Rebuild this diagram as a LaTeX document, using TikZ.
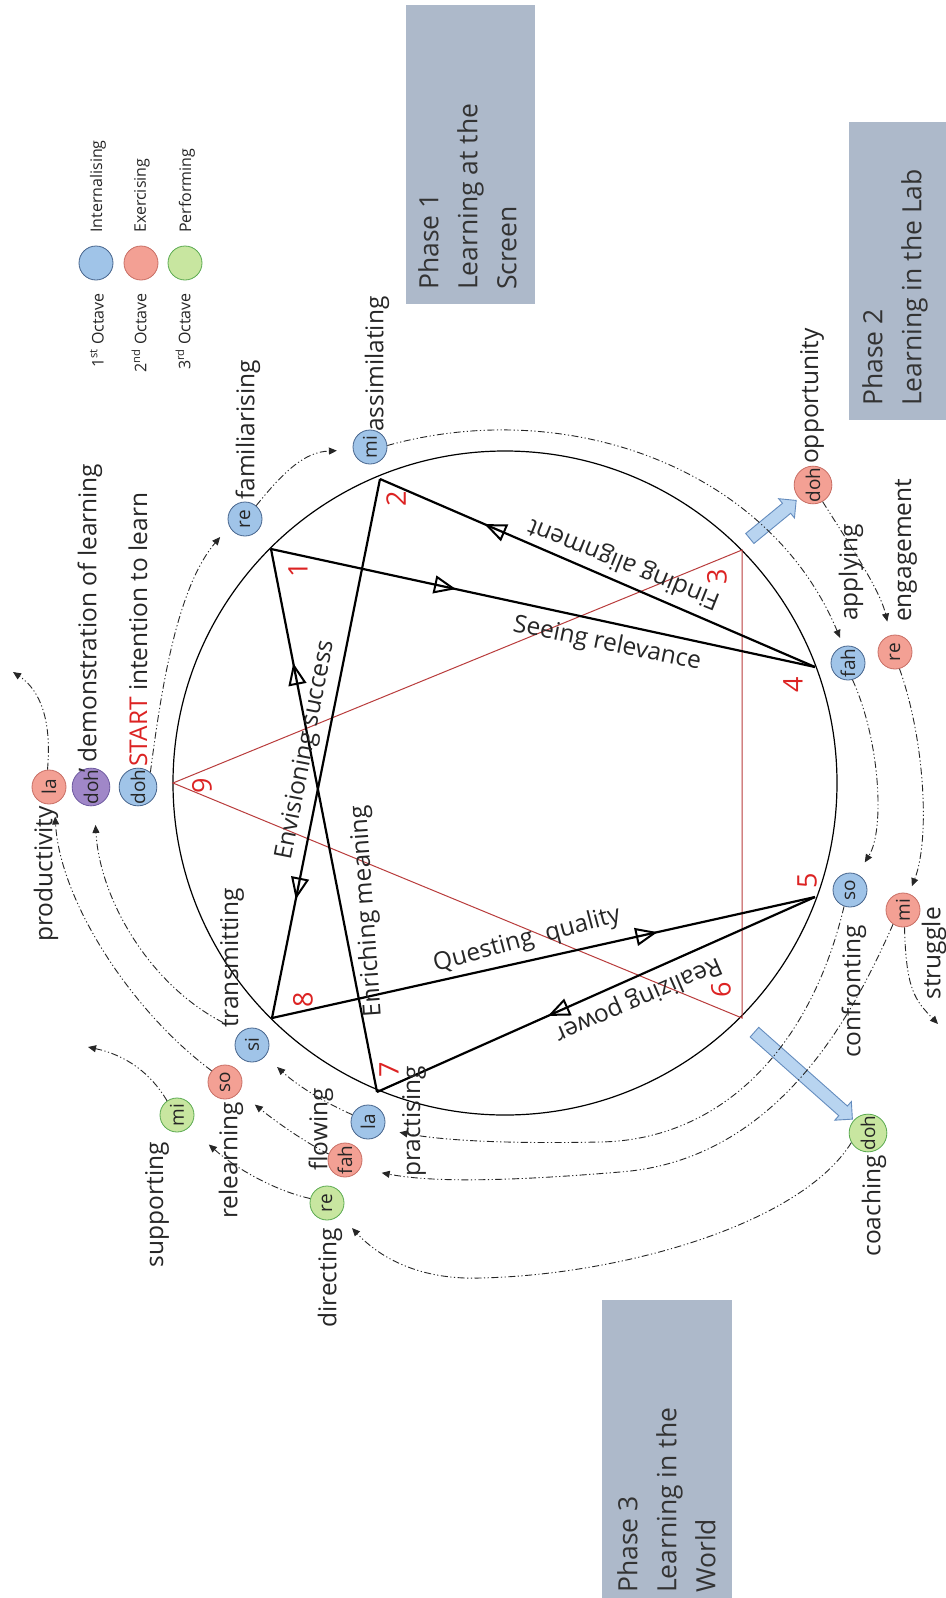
\documentclass[tikz,border=0pt]{standalone}
\usepackage{fontspec}
\setmainfont{Open Sans}
\usepackage{graphicx}
\usetikzlibrary{arrows.meta,decorations.markings,shapes.arrows}

\definecolor{noteblue}{RGB}{160,196,232}
\definecolor{noteblueedge}{RGB}{70,100,140}
\definecolor{notered}{RGB}{243,160,148}
\definecolor{noterededge}{RGB}{200,110,100}
\definecolor{notegreen}{RGB}{200,230,160}
\definecolor{notegreenedge}{RGB}{90,170,80}
\definecolor{notepurple}{RGB}{160,135,200}
\definecolor{notepurpleedge}{RGB}{110,90,160}
\definecolor{phasefill}{RGB}{173,185,202}
\definecolor{numred}{RGB}{220,35,35}
\definecolor{trired}{RGB}{185,60,60}
\definecolor{shiftfill}{RGB}{184,212,240}
\definecolor{shiftedge}{RGB}{100,140,190}

\begin{document}
\begin{tikzpicture}[x=1pt,y=-1pt,
  note/.style={circle, draw, line width=0.8pt, minimum size=34pt, inner sep=0pt, font=\fontsize{19}{19}\selectfont, text=black!85},
  nb/.style={note, fill=noteblue, draw=noteblueedge},
  nr/.style={note, fill=notered, draw=noterededge},
  ng/.style={note, fill=notegreen, draw=notegreenedge},
  np/.style={note, fill=notepurple, draw=notepurpleedge},
  lab/.style={inner sep=0pt, font=\fontsize{24.5}{25}\selectfont, text=black!85},
  vlab/.style={lab, rotate=90},
  num/.style={inner sep=0pt, text=numred, rotate=90, font=\fontsize{27}{27}\selectfont},
  legtxt/.style={inner sep=0pt, rotate=90, font=\fontsize{16}{16}\selectfont, text=black!85},
  phasetxt/.style={inner sep=0pt, rotate=90, align=left, font=\fontsize{26.5}{39}\selectfont, text=black!80},
  chord/.style={line width=2.2pt, draw=black},
  midtri/.style={postaction={decorate, decoration={markings, mark=at position #1 with {\arrow{Triangle[open, length=22pt, width=18pt, line width=2pt]}}}}},
  ring/.style={line width=1.2pt, draw=black},
  tri/.style={line width=1pt, draw=trired},
  flow/.style={line width=0.9pt, draw=black!85, dash pattern=on 7pt off 2.5pt on 1.2pt off 2.5pt on 1.2pt off 2.5pt, -{Triangle[length=8pt, width=7pt]}},
  shiftarrow/.style={single arrow, draw=shiftedge, fill=shiftfill, line width=0.9pt, inner xsep=0pt, inner ysep=6pt, minimum width=0pt, single arrow head extend=6pt, single arrow tip angle=90}
]
\useasboundingbox (0,0) rectangle (945,1598);
\fill[white] (0,0) rectangle (945,1598);

% phase panels
\fill[phasefill] (406,5) rectangle (535,304);
\fill[phasefill] (849,122) rectangle (950,420);
\fill[phasefill] (602,1300) rectangle (732,1605);
\node[phasetxt, anchor=north west] (ph1) at (418,290) {Phase 1\\Learning at the\\Screen};
\node[phasetxt, anchor=north west] (ph2) at (862,406) {Phase 2\\Learning in the Lab};
\node[phasetxt, anchor=north west] (ph3) at (617,1593) {Phase 3\\Learning in the\\World};

% legend
\node[nb] (legB) at (96,263) {};
\node[nr] (legR) at (141,263) {};
\node[ng] (legG) at (185,263) {};
\node[legtxt, anchor=west] (legBt) at (98,233) {Internalising};
\node[legtxt, anchor=west] (legRt) at (142,233) {Exercising};
\node[legtxt, anchor=west] (legGt) at (187,233) {Performing};
\node[legtxt, anchor=east] (legBo) at (97,293) {1\textsuperscript{st} Octave};
\node[legtxt, anchor=east] (legRo) at (139,293) {2\textsuperscript{nd} Octave};
\node[legtxt, anchor=east] (legGo) at (183,293) {3\textsuperscript{rd} Octave};

% enneagram circle and its points
\draw[ring] (505,783) circle[radius=332pt];
\coordinate (p1) at (271,549);
\coordinate (p2) at (380,479);
\coordinate (p3) at (742,550);
\coordinate (p4) at (815,667);
\coordinate (p5) at (815,897);
\coordinate (p6) at (742,1018);
\coordinate (p7) at (377,1092);
\coordinate (p8) at (272,1018);
\coordinate (p9) at (173,783);

% inner triangle 9-3-6
\draw[tri] (p9) -- (p3) -- (p6) -- cycle;

% hexad 1-4-2-8-5-7
\draw[chord, midtri=0.34] (p1) -- (p4);
\draw[chord, midtri=0.76] (p4) -- (p2);
\draw[chord, midtri=0.78] (p2) -- (p8);
\draw[chord, midtri=0.71] (p8) -- (p5);
\draw[chord, midtri=0.61] (p5) -- (p7);
\draw[chord, midtri=0.79] (p7) -- (p1);

% chord labels
\node[lab, rotate=-11.5] (lSee) at (607,644) {Seeing relevance};
\node[lab, rotate=158] (lFind) at (624,563) {Finding alignment};
\node[lab, rotate=79] (lEnv) at (306,750) {Envisioning success};
\node[lab, rotate=94] (lEnr) at (367,911) {Enriching meaning};
\node[lab, rotate=15] (lQuest) at (527,940) {Questing~~quality};
\node[lab, rotate=203.6] (lReal) at (638,999) {Realizing power};

% point numbers
\node[num] (n1) at (298,570) {1};
\node[num] (n2) at (396,499) {2};
\node[num] (n3) at (717,577) {3};
\node[num] (n4) at (793,685) {4};
\node[num] (n5) at (807,881) {5};
\node[num] (n6) at (721,990) {6};
\node[num] (n7) at (389,1070) {7};
\node[num] (n8) at (303,1000) {8};
\node[num] (n9) at (202,786) {9};

% shock arrows
\node[shiftarrow, minimum height=60pt, rotate=39.4] (shiftA) at (770.5,521.5) {};
\node[shiftarrow, minimum height=131pt, rotate=-41.6] (shiftB) at (801,1073.5) {};

% notes
\node[nr] (laP) at (49,787) {\rotatebox{90}{la}};
\node[np] (dohP) at (91,787) {\rotatebox{90}{doh}};
\node[nb] (dohS) at (138,787) {\rotatebox{90}{doh}};
\node[nb] (reF) at (245,519) {\rotatebox{90}{re}};
\node[nb] (miA) at (370,447) {\rotatebox{90}{mi}};
\node[nr] (dohO) at (813,485) {\rotatebox{90}{doh}};
\node[nb] (fahA) at (848,663) {\rotatebox{90}{fah}};
\node[nr] (reE) at (895,652) {\rotatebox{90}{re}};
\node[nb] (soC) at (850,890) {\rotatebox{90}{so}};
\node[nr] (miS) at (903,910) {\rotatebox{90}{mi}};
\node[ng] (dohC) at (868,1133) {\rotatebox{90}{doh}};
\node[nb] (laPr) at (368,1122) {\rotatebox{90}{la}};
\node[nr] (fahF) at (345,1160) {\rotatebox{90}{fah}};
\node[ng] (reD) at (327,1203) {\rotatebox{90}{re}};
\node[nb] (siT) at (252,1045) {\rotatebox{90}{si}};
\node[nr] (soR) at (225,1082) {\rotatebox{90}{so}};
\node[ng] (miSu) at (177,1115) {\rotatebox{90}{mi}};

% note labels
\node[vlab, anchor=east] (tProd) at (46,806) {productivity};
\node[vlab, anchor=west] (tDemo) at (90,773) {’ demonstration of learning};
\node[vlab, anchor=west] (tStart) at (138,767) {{\color{numred}START} intention to learn};
\node[vlab, anchor=west] (tFam) at (248,500) {familiarising};
\node[vlab, anchor=west] (tAss) at (377,432) {assimilating};
\node[vlab, anchor=west] (tOpp) at (812,464) {opportunity};
\node[vlab, anchor=west] (tApp) at (851,621) {applying};
\node[vlab, anchor=west] (tEng) at (906,622) {engagement};
\node[vlab, anchor=east] (tConf) at (854,925) {confronting};
\node[vlab, anchor=east] (tStr) at (934,907) {struggle};
\node[vlab, anchor=east] (tCoach) at (874,1155) {coaching};
\node[vlab, anchor=west] (tTrans) at (232,1028) {transmitting};
\node[vlab, anchor=east] (tRel) at (231,1102) {relearning};
\node[vlab, anchor=east] (tSup) at (157,1142) {supporting};
\node[vlab, anchor=east] (tFlow) at (321,1088) {flowing};
\node[vlab, anchor=west] (tPrac) at (414,1177) {practising};
\node[vlab, anchor=east] (tDir) at (330,1228) {directing};

% free ends of the outgoing connectors
\coordinate (laOut) at (13,672);
\coordinate (miOut) at (88,1047);
\coordinate (strOut) at (938,1024);

% first octave
\draw[flow, shorten >=14pt] (dohS.50) .. controls (160,700) and (175,590) .. (reF.205);
\draw[flow, shorten >=16pt] (reF.50) .. controls (285,470) and (305,452) .. (miA.190);
\draw[flow, shorten >=9pt] (miA.5) .. controls (570,395) and (770,470) .. (fahA.105);
\draw[flow, shorten >=14pt] (fahA.-75) .. controls (880,740) and (885,830) .. (soC.65);
\draw[flow, shorten >=16pt] (soC.-110) .. controls (810,1050) and (720,1140) .. (600,1142) .. controls (500,1144) and (440,1140) .. (laPr.-25);
\draw[flow, shorten >=16pt] (laPr.155) .. controls (330,1105) and (300,1088) .. (siT.-40);
\draw[flow, shorten <=20pt, shorten >=19pt] (siT.130) .. controls (150,985) and (100,900) .. (dohP.-80);

% second octave
\draw[flow, shorten >=14pt] (dohO.-60) .. controls (850,545) and (880,590) .. (reE.105);
\draw[flow, shorten >=8pt] (reE.-75) .. controls (925,740) and (930,840) .. (miS.70);
\draw[flow] (miS.-85) .. controls (906,990) and (915,1000) .. (strOut);
\draw[flow, shorten >=22pt] (miS.-125) .. controls (855,1010) and (780,1160) .. (620,1172) .. controls (500,1182) and (430,1182) .. (fahF.-30);
\draw[flow, shorten >=20pt] (fahF.160) .. controls (310,1145) and (280,1125) .. (soR.-35);
\draw[flow, shorten >=13pt] (soR.140) .. controls (130,1010) and (60,900) .. (laP.-72);
\draw[flow] (laP.95) .. controls (52,720) and (40,690) .. (laOut);

% third octave
\draw[flow, shorten >=18pt] (dohC.-150) .. controls (800,1225) and (620,1275) .. (480,1278) .. controls (420,1280) and (380,1258) .. (reD.-43);
\draw[flow, shorten >=26pt] (reD.165) .. controls (280,1192) and (240,1172) .. (miSu.-45);
\draw[flow] (miSu.125) .. controls (150,1072) and (125,1055) .. (miOut);
\end{tikzpicture}
\end{document}
